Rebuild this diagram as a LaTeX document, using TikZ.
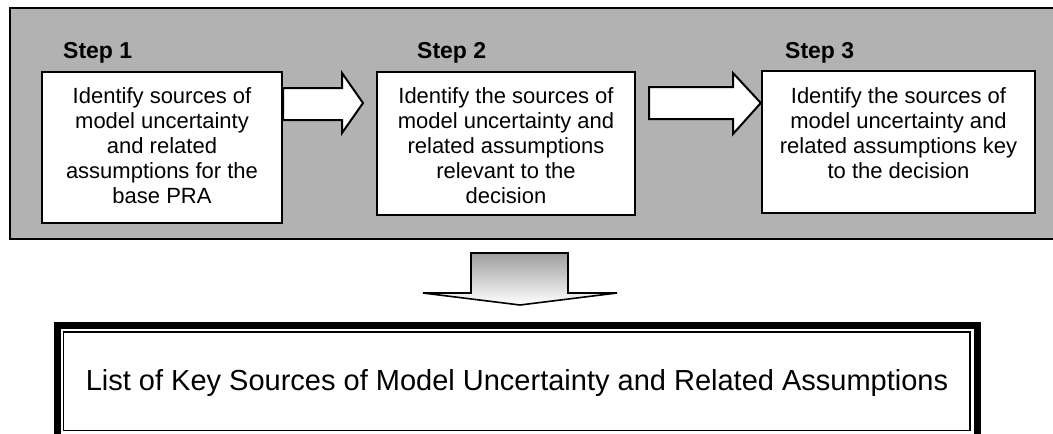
\documentclass[tikz,border=0pt]{standalone}
\usepackage{fontspec}
\setmainfont{Liberation Sans}
\usetikzlibrary{calc}

\tikzset{
  panel/.style={draw=black, line width=2pt, fill=black!30},
  stepbox/.style={draw=black, line width=2.4pt, fill=white, inner sep=0pt},
  steptext/.style={anchor=north, align=center, inner sep=0pt,
    font=\fontsize{22}{25}\selectfont},
  steplabel/.style={anchor=base west, inner sep=0pt,
    font=\fontsize{23}{26}\selectfont\bfseries},
  blockarrow/.style={draw=black, line width=2pt, fill=white, line join=miter},
  downarrow/.style={draw=black, line width=1.6pt, top color=black!38,
    bottom color=white, line join=miter},
  resultframe/.style={draw=black, line width=7pt, fill=white},
  resultinner/.style={draw=black, line width=1.4pt},
  resulttext/.style={font=\fontsize{29}{32}\selectfont, inner sep=0pt}
}

\begin{document}
\begin{tikzpicture}[x=1pt, y=-1pt]
  \useasboundingbox (0,0) rectangle (1053,434);
  \clip (0,0) rectangle (1053,434);

  % shaded panel holding the three steps
  \draw[panel] (10,8) rectangle (1060,239);

  % step boxes
  \node[stepbox, minimum width=240pt, minimum height=151pt] (s1) at (162,147.5) {};
  \node[stepbox, minimum width=258pt, minimum height=143pt] (s2) at (506,143.5) {};
  \node[stepbox, minimum width=273pt, minimum height=142pt] (s3) at (898.5,142) {};

  % step headings
  \node[steplabel] (l1) at (63,58) {Step 1};
  \node[steplabel] (l2) at (417,58) {Step 2};
  \node[steplabel] (l3) at (785,58) {Step 3};

  % step descriptions
  \node[steptext] (t1) at (162,87) {Identify sources of\\model uncertainty\\and related\\assumptions for the\\base PRA};
  \node[steptext] (t2) at (506,87) {Identify the sources of\\model uncertainty and\\related assumptions\\relevant to the\\decision};
  \node[steptext] (t3) at (898.5,87) {Identify the sources of\\model uncertainty and\\related assumptions key\\to the decision};

  % block arrows between the steps
  \draw[blockarrow] ($(s1.east)+(0,-59.5)$) -- (342,88) -- (342,73) -- (363,103)
    -- (342,133) -- (342,120) -- ($(s1.east)+(0,-27.5)$) -- cycle;
  \draw[blockarrow] (649,87) -- (733,87) -- (733,73) -- ($(s3.west)+(0,-39)$)
    -- (733,134) -- (733,119) -- (649,119) -- cycle;

  % summary box
  \draw[resultframe] (57.5,325.5) rectangle (977.5,437);
  \draw[resultinner] (63.5,332) rectangle (970,430.5);
  \node[resulttext] (res) at (517,383) {List of Key Sources of Model Uncertainty and Related Assumptions};

  % down arrow from the step panel to the summary
  \coordinate (dtip) at (520,305);
  \draw[downarrow] (471,253) -- (568,253) -- (568,293) -- (617,293) -- (dtip)
    -- (423,293) -- (471,293) -- cycle;
\end{tikzpicture}
\end{document}
